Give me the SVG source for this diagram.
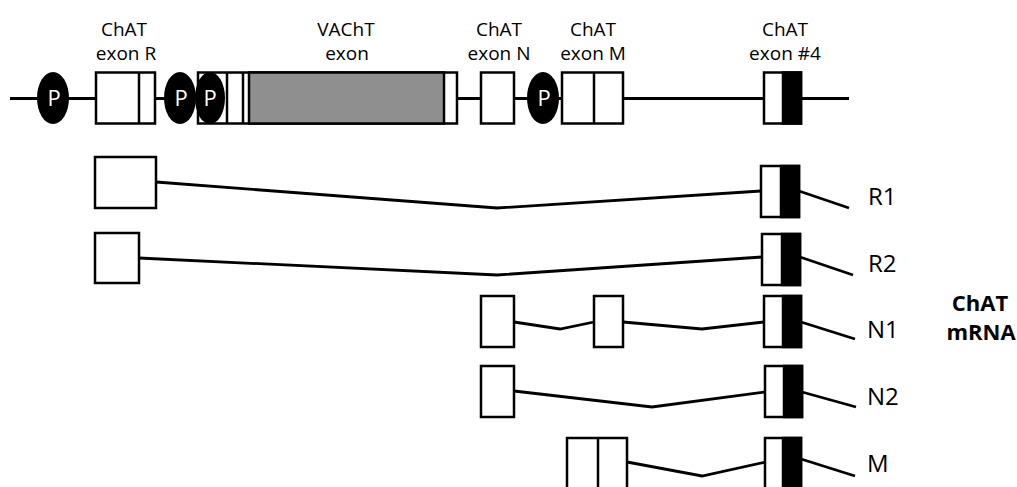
<svg xmlns="http://www.w3.org/2000/svg" width="1017" height="487" viewBox="0 0 1017 487">
<style>
.ln{fill:none;stroke:#000;stroke-width:2.8;stroke-linejoin:miter}
.ex{fill:#fff;stroke:#000;stroke-width:2.5}
.bk{fill:#000;stroke:#000;stroke-width:2.5}
.gr{fill:#8f8f8f;stroke:#000;stroke-width:2.5}
.dv{stroke:#000;stroke-width:2.5}
.pr{fill:#000}
.pt{font-family:"Open Sans","Noto Sans",sans-serif;font-size:22px;fill:#fff;text-anchor:middle}
.lb{font-family:"Open Sans","Noto Sans",sans-serif;font-size:19px;fill:#000;text-anchor:middle}
.rl{font-family:"Open Sans","Noto Sans",sans-serif;font-size:24px;fill:#000}
.bd{font-family:"Open Sans","Noto Sans",sans-serif;font-size:22px;font-weight:bold;fill:#000;text-anchor:middle}
</style>
<rect width="1017" height="487" fill="#fff"/>
<g id="connectors">
<line class="ln" x1="10" y1="98.5" x2="849" y2="98.5"/>
<polyline class="ln" points="156,182 497,208 761,191"/>
<line class="ln" x1="799" y1="191" x2="849" y2="208"/>
<polyline class="ln" points="139,258 497,275 762,257"/>
<line class="ln" x1="800" y1="257" x2="853" y2="275"/>
<polyline class="ln" points="514,322 560,329 594,322"/>
<polyline class="ln" points="623,322 702,329 764,322"/>
<line class="ln" x1="801" y1="322" x2="855" y2="339"/>
<polyline class="ln" points="514,391 652,407 765,392"/>
<line class="ln" x1="802" y1="392" x2="856" y2="407"/>
<polyline class="ln" points="627,462 702,476 766,462"/>
<line class="ln" x1="801" y1="459" x2="855" y2="476"/>
</g>
<g id="exonR">
<rect class="ex" x="96" y="72.5" width="59" height="51"/>
<line class="dv" x1="139" y1="72.5" x2="139" y2="123.5"/>
<text class="lb" x="124" y="35.5">ChAT</text>
<text class="lb" x="126" y="60">exon R</text>
</g>
<g id="vacht">
<rect class="ex" x="198" y="72.5" width="259" height="51"/>
<line class="dv" x1="227" y1="72.5" x2="227" y2="123.5"/>
<line class="dv" x1="243" y1="72.5" x2="243" y2="123.5"/>
<rect class="gr" x="249" y="72.5" width="195" height="51"/>
<text class="lb" x="346" y="35.5">VAChT</text>
<text class="lb" x="347" y="60">exon</text>
</g>
<g id="exonN">
<rect class="ex" x="481" y="72.5" width="33" height="51"/>
<text class="lb" x="499" y="35.5">ChAT</text>
<text class="lb" x="499" y="60">exon N</text>
</g>
<g id="exonM">
<rect class="ex" x="562" y="72.5" width="61" height="51"/>
<line class="dv" x1="594" y1="72.5" x2="594" y2="123.5"/>
<text class="lb" x="593" y="35.5">ChAT</text>
<text class="lb" x="593" y="60">exon M</text>
</g>
<g id="exon4">
<rect class="ex" x="764" y="72.5" width="37" height="51"/>
<rect class="bk" x="783" y="72.5" width="18" height="51"/>
<text class="lb" x="785" y="35.5">ChAT</text>
<text class="lb" x="785" y="60">exon #4</text>
</g>
<g id="promoter1">
<ellipse class="pr" cx="53" cy="98" rx="16" ry="26"/>
<text class="pt" x="54" y="106">P</text>
</g>
<g id="promoter2">
<ellipse class="pr" cx="180" cy="98" rx="16" ry="26"/>
<text class="pt" x="181" y="106">P</text>
</g>
<g id="promoter3">
<ellipse class="pr" cx="210" cy="98" rx="15" ry="26"/>
<text class="pt" x="210" y="106">P</text>
</g>
<g id="promoter4">
<ellipse class="pr" cx="543" cy="98" rx="16" ry="26"/>
<text class="pt" x="544" y="106">P</text>
</g>
<g id="R1">
<rect class="ex" x="95" y="157" width="61" height="51"/>
<rect class="ex" x="761" y="166" width="38" height="51"/>
<rect class="bk" x="781" y="166" width="18" height="51"/>
<text class="rl" x="868" y="205">R1</text>
</g>
<g id="R2">
<rect class="ex" x="95" y="233" width="44" height="50"/>
<rect class="ex" x="762" y="234" width="38" height="51"/>
<rect class="bk" x="782" y="234" width="18" height="51"/>
<text class="rl" x="868" y="272">R2</text>
</g>
<g id="N1">
<rect class="ex" x="481" y="296" width="33" height="51"/>
<rect class="ex" x="594" y="296" width="29" height="51"/>
<rect class="ex" x="764" y="296" width="37" height="51"/>
<rect class="bk" x="783" y="296" width="18" height="51"/>
<text class="rl" x="867" y="338">N1</text>
</g>
<g id="N2">
<rect class="ex" x="481" y="366" width="33" height="51"/>
<rect class="ex" x="765" y="366" width="37" height="51"/>
<rect class="bk" x="784" y="366" width="18" height="51"/>
<text class="rl" x="867" y="405">N2</text>
</g>
<g id="M">
<rect class="ex" x="567" y="438" width="60" height="70"/>
<line class="dv" x1="598" y1="438" x2="598" y2="508"/>
<rect class="ex" x="765" y="438" width="36" height="70"/>
<rect class="bk" x="783" y="438" width="18" height="70"/>
<text class="rl" x="867" y="472">M</text>
</g>
<g id="mrnaLabel">
<text class="bd" x="980" y="311">ChAT</text>
<text class="bd" x="981" y="340">mRNA</text>
</g>
</svg>
